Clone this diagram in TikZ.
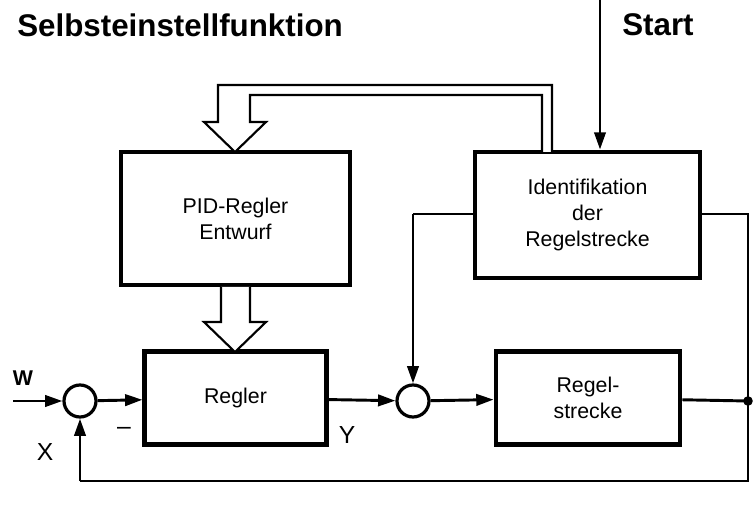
\documentclass[tikz,border=0pt]{standalone}
\usepackage{fontspec}
\setmainfont{Liberation Sans}
\usetikzlibrary{arrows.meta,calc}
\begin{document}
\begin{tikzpicture}[x=0.75pt,y=-0.75pt,
  box/.style={draw,line width=3.6pt,rectangle,inner sep=0pt,align=center,font=\fontsize{16}{19.5}\selectfont},
  sumc/.style={draw,line width=2.4pt,circle,minimum size=24pt,inner sep=0pt},
  conn/.style={line width=2.2pt},
  arr/.style={conn,-{Triangle[length=13pt,width=8.5pt]}},
  hollow/.style={draw,line width=1.6pt,fill=white,line join=miter},
  lbl/.style={font=\fontsize{18.5}{22}\selectfont,inner sep=0pt}]
\useasboundingbox (0,0) rectangle (753,509);
% boxes
\node[box,minimum width=171.75pt,minimum height=99.75pt] (pid) at (235.5,218.5) {PID-Regler\\Entwurf};
\node[box,minimum width=168.75pt,minimum height=94.5pt] (ident) at (587.5,215) {Identifikation\\der\\Regelstrecke};
\node[box,minimum width=136pt,minimum height=69.75pt] (regler) at (235.5,398) {Regler};
\node[box,minimum width=138pt,minimum height=69.75pt] (strecke) at (588,398) {Regel-\\strecke};
\node[sumc] (s1) at (80,401) {};
\node[sumc] (s2) at (413,401) {};
% labels
\node[anchor=base west,inner sep=0pt,font=\fontsize{23.5}{28}\bfseries] (title) at (17,37) {Selbsteinstellfunktion};
\node[anchor=base west,inner sep=0pt,font=\fontsize{23.5}{28}\bfseries] (start) at (622,36) {Start};
\node[inner sep=0pt,font=\fontsize{16}{19}\bfseries] (w) at (23,378.5) {W};
\node[lbl] (xl) at (45,452) {X};
\node[lbl] (minus) at (124,431) {\textendash};
\node[lbl] (yl) at (347,435) {Y};
% coordinates
\coordinate (win) at (13,401);
\coordinate (startin) at (600,0);
\coordinate (dot) at (748,401);
\coordinate (br) at (748,481);
\coordinate (bl) at (80,481);
\coordinate (il) at (413,214);
\coordinate (ir) at (748,214);
% connectors
\draw[arr] (win) -- (s1);
\draw[arr] (s1) -- (regler);
\draw[arr] (regler) -- (s2);
\draw[arr] (s2) -- (strecke);
\draw[arr] (startin) -- (startin |- ident.north);
\draw[conn] (strecke) -- (dot);
\draw[conn] (ident.west |- il) -- (il);
\draw[arr] (il) -- (s2);
\draw[conn,line join=miter] (ident.east |- ir) -- (ir) -- (br) -- (bl);
\draw[arr] (bl) -- (s1);
\fill (dot) circle (3.6pt);
% hollow arrows
\draw[hollow] (542,152) -- (542,95) -- (250,95) -- (250,122) -- (266,122) -- (235,152) -- (204,122) -- (218,122) -- (218,85) -- (552,85) -- (552,152);
\draw[hollow] (221,287) -- (221,322) -- (204,322) -- (235,352) -- (266,322) -- (250,322) -- (250,287);
\end{tikzpicture}
\end{document}
